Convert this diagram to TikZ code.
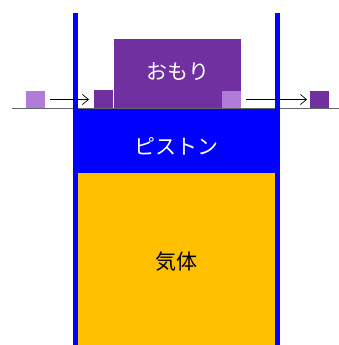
\documentclass[tikz,border=0pt]{standalone}
\usepackage{fontspec}
\newfontfamily\jp{Noto Sans CJK JP}
\usetikzlibrary{arrows.meta}
\definecolor{wallblue}{RGB}{0,0,255}
\definecolor{gasorange}{RGB}{255,192,0}
\definecolor{darkpurple}{RGB}{112,48,160}
\definecolor{lightpurple}{RGB}{176,124,216}
\tikzset{
  wall/.style={draw=wallblue, line width=4.5pt},
  mover/.style={-{Straight Barb[length=6pt,width=10pt]}, line width=0.7pt, black},
  lbl/.style={font=\jp\fontsize{21}{21}\selectfont}
}
\begin{document}
\begin{tikzpicture}[x=1pt,y=-1pt]
\useasboundingbox (0,0) rectangle (339,345);
\fill[white] (0,0) rectangle (339,345);
% gas
\fill[gasorange] (76,173) rectangle (277,345);
\node[lbl, text=black] (gas) at (176,262) {気体};
% piston
\fill[wallblue] (76,109) rectangle (277,173);
\node[lbl, text=white] (piston) at (176,146) {ピストン};
% weight
\fill[darkpurple] (114,39) rectangle (241,108);
\node[lbl, text=white] (weight) at (178,72) {おもり};
% ground line
\draw[gray!80!black, line width=1pt] (12,108.5) -- (339,108.5);
% walls
\draw[wall] (75.5,13) -- (75.5,345);
\draw[wall] (277.3,13) -- (277.3,345);
% small blocks
\fill[lightpurple] (26,91) rectangle (45,108);
\fill[darkpurple] (94,90) rectangle (113,108);
\fill[lightpurple] (222,91) rectangle (241,108);
\fill[darkpurple] (310,91) rectangle (329,108);
\coordinate (s1) at (50,99.5);
\coordinate (e1) at (89,99.5);
\coordinate (s2) at (246,99.5);
\coordinate (e2) at (307,99.5);
\draw[mover] (s1) -- (e1);
\draw[mover] (s2) -- (e2);
\end{tikzpicture}
\end{document}
